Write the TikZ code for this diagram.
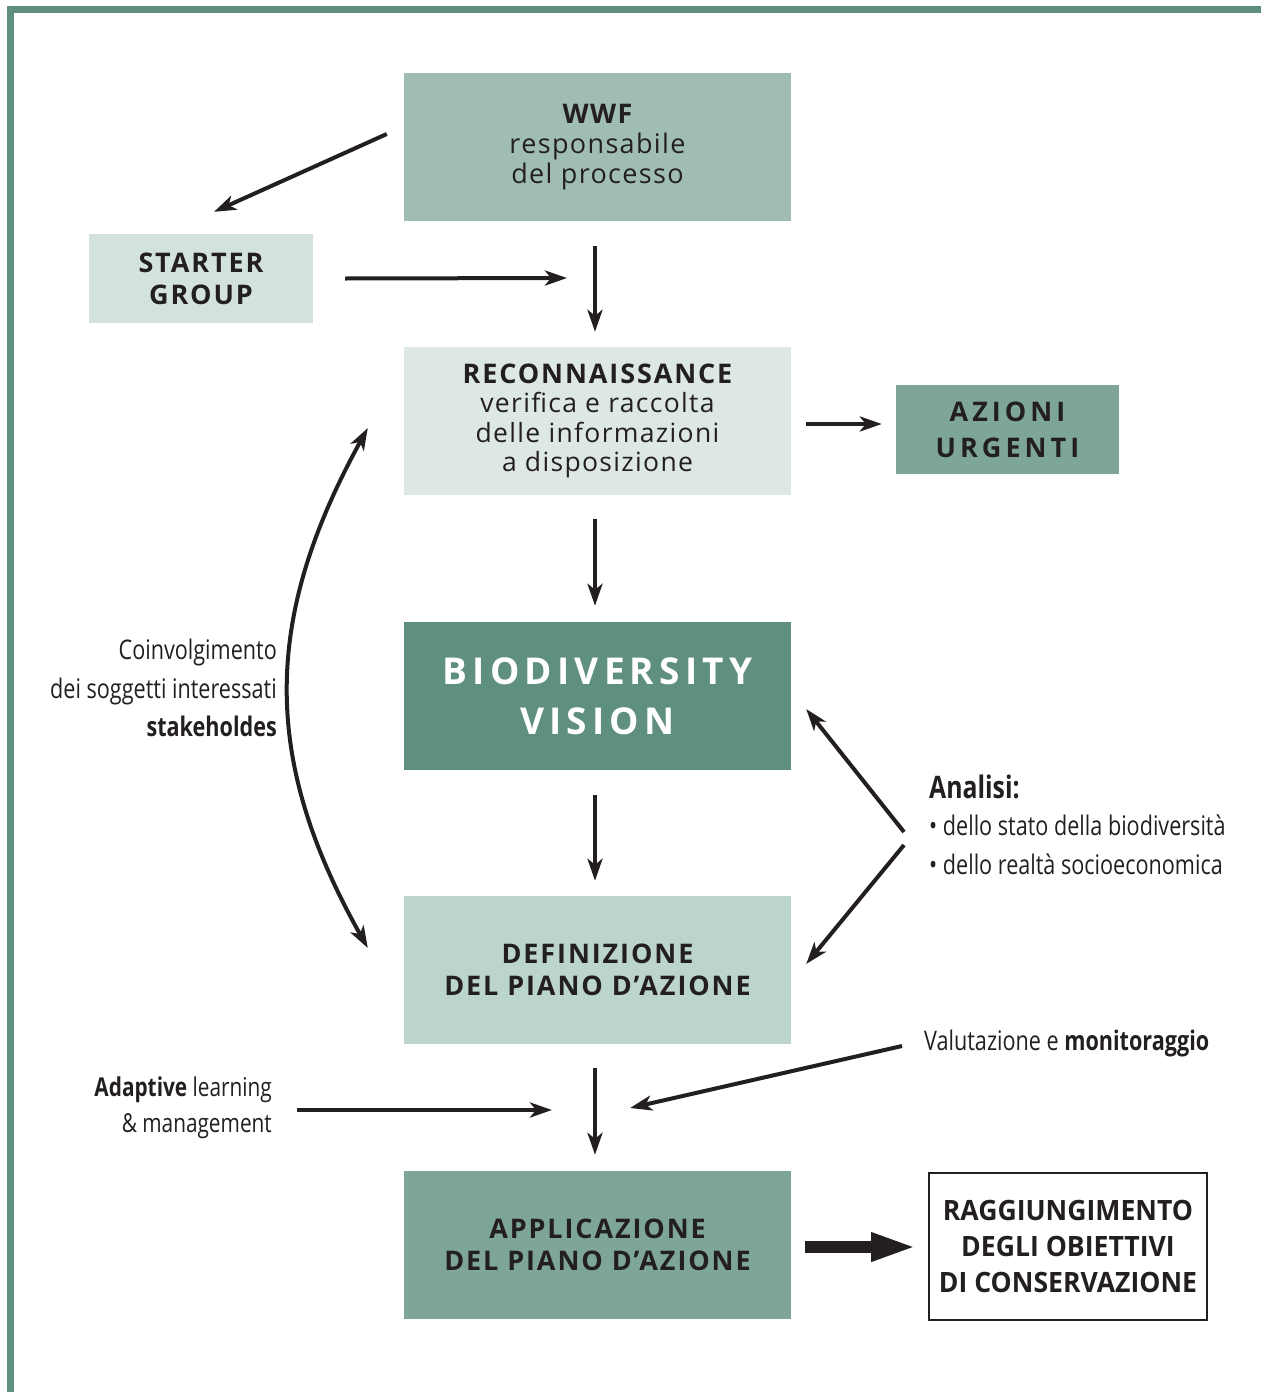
\documentclass[tikz,border=0pt]{standalone}
\usepackage{fontspec}
\setmainfont{Open Sans}
\newfontfamily\boxf[LetterSpace=5]{Open Sans}
\newfontfamily\capf[LetterSpace=7]{Open Sans}
\newfontfamily\azf[LetterSpace=15]{Open Sans}
\newfontfamily\biof[LetterSpace=14]{Open Sans}
\newfontfamily\ragf[FakeStretch=0.95]{Open Sans}
\newfontfamily\cond[FakeStretch=0.8]{Open Sans}
\usetikzlibrary{arrows.meta}
\definecolor{txt}{HTML}{231F20}
\definecolor{cborder}{HTML}{5F8F7E}
\definecolor{cwwf}{HTML}{A0BDB1}
\definecolor{cstart}{HTML}{D3E3DC}
\definecolor{crecon}{HTML}{DDE8E2}
\definecolor{cazioni}{HTML}{7EA696}
\definecolor{cbio}{HTML}{5F8F7E}
\definecolor{cdef}{HTML}{BCD5CB}
\definecolor{cappl}{HTML}{7EA696}
\begin{document}
\begin{tikzpicture}[x=1pt,y=-1pt,
  box/.style={inner sep=0pt, text=txt, align=center},
  bigbox/.style={box, minimum width=387pt, minimum height=148pt},
  smallbox/.style={box, minimum width=224pt, minimum height=89pt},
  capbox/.style={font={\capf\bfseries\fontsize{27}{32}\selectfont}},
  lbl/.style={inner sep=0pt, text=txt},
  arr/.style={line width=4pt, draw=txt, >={Stealth[length=22pt,width=15pt,inset=6pt]}},
  fatarr/.style={line width=12pt, draw=txt, -{Triangle[length=46pt,width=26pt]}}
]
\useasboundingbox (0,0) rectangle (1261,1392);
% border
\draw[cborder, line width=7pt] (10,1392) -- (10,9.5) -- (1261,9.5);

% boxes
\node[bigbox, fill=cwwf, font={\boxf\fontsize{27}{30}\selectfont}] (wwf) at (597.5,147)
  {{\bfseries WWF}\\responsabile\\del processo};
\node[smallbox, capbox, fill=cstart] (starter) at (201,278.5) {STARTER\\GROUP};
\node[bigbox, fill=crecon, font={\boxf\fontsize{26.5}{29.5}\selectfont}] (recon) at (597.5,421)
  {{\capf\bfseries\fontsize{27}{29.5}\selectfont RECONNAISSANCE}\\verifica e raccolta\\delle informazioni\\a disposizione};
\node[box, minimum width=223pt, minimum height=89pt, fill=cazioni, font={\azf\bfseries\fontsize{27}{36}\selectfont}] (azioni) at (1007.5,429.5) {AZIONI\\URGENTI};
\node[bigbox, fill=cbio, text=white, font={\biof\bfseries\fontsize{37}{50}\selectfont}] (bio) at (597.5,696) {BIODIVERSITY\\VISION};
\node[bigbox, capbox, fill=cdef] (def) at (597.5,970) {DEFINIZIONE\\DEL PIANO D’AZIONE};
\node[bigbox, capbox, fill=cappl] (appl) at (597.5,1245) {APPLICAZIONE\\DEL PIANO D’AZIONE};
\node[box, draw=txt, line width=2pt, minimum width=278pt, minimum height=147pt, fill=white,
  font={\ragf\bfseries\fontsize{28}{36}\selectfont}] (ragg) at (1068,1246.5)
  {RAGGIUNGIMENTO\\DEGLI OBIETTIVI\\DI CONSERVAZIONE};

% side labels
\node[lbl, anchor=east, align=right, font={\cond\fontsize{27}{38.5}\selectfont}] (coinv) at (277,688)
  {Coinvolgimento\\dei soggetti interessati\\\textbf{stakeholdes}};
\node[lbl, anchor=east, align=right, font={\cond\fontsize{26}{36}\selectfont}] (adapt) at (272,1108)
  {\textbf{Adaptive} learning\\\& management};
\node[lbl, anchor=west, font={\cond\bfseries\fontsize{31}{36}\selectfont}] (analisi) at (929,787) {Analisi:};
\node[lbl, anchor=west, font={\cond\fontsize{27}{36}\selectfont}] (an1) at (929,825) {• dello stato della biodiversità};
\node[lbl, anchor=west, font={\cond\fontsize{27}{36}\selectfont}] (an2) at (929,864) {• dello realtà socioeconomica};
\node[lbl, anchor=west, font={\cond\fontsize{27}{36}\selectfont}] (valut) at (924,1043) {Valutazione e \textbf{monitoraggio}};

% junction coordinates
\coordinate (j1) at (567,278);
\coordinate (j2) at (552,1110);
\coordinate (j3) at (630,1108);
\coordinate (a1) at (904,832);
\coordinate (a2) at (904,845);
\coordinate (v1) at (902,1046);
\coordinate (ad1) at (297,1110);

% arrows
\draw[arr,->] ([xshift=-17pt,yshift=13pt]wwf.west) -- ([xshift=13pt,yshift=22pt]starter.north);
\draw[arr,->] ([xshift=32pt]starter.east) -- (j1);
\draw[arr,->] ([xshift=-2.5pt,yshift=-25pt]wwf.south) -- ([xshift=-2.5pt,yshift=15pt]recon.north);
\draw[arr,->] ([xshift=15pt,yshift=-3pt]recon.east) -- ([xshift=-14pt,yshift=5.5pt]azioni.west);
\draw[arr,->] ([xshift=-2.5pt,yshift=-24pt]recon.south) -- ([xshift=-2.5pt,yshift=16pt]bio.north);
\draw[arr,->] ([xshift=-2.5pt,yshift=-25pt]bio.south) -- ([xshift=-2.5pt,yshift=15pt]def.north);
\draw[arr,->] ([xshift=-2.5pt,yshift=-24pt]def.south) -- ([xshift=-2.5pt,yshift=16pt]appl.north);
\draw[arr,<->] ([xshift=-36pt,yshift=22pt]def.west) .. controls (262,760) and (262,620) .. ([xshift=-36pt,yshift=-7pt]recon.west);
\draw[arr,->] (a1) -- ([xshift=15pt,yshift=-13pt]bio.east);
\draw[arr,->] (a2) -- ([xshift=15pt,yshift=6pt]def.east);
\draw[arr,->] (ad1) -- (j2);
\draw[arr,->] (v1) -- (j3);
\draw[fatarr] ([xshift=14pt,yshift=-2pt]appl.east) -- ([xshift=-11pt,yshift=-0.5pt]ragg.west);
\end{tikzpicture}
\end{document}
